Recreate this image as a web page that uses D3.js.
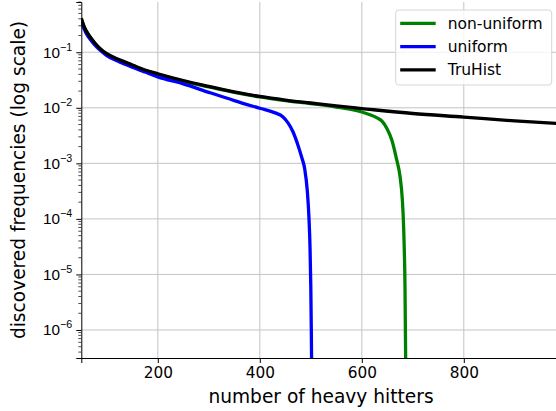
<!DOCTYPE html>
<html>
<head>
<meta charset="utf-8">
<script src="https://cdn.jsdelivr.net/npm/d3@7"></script>
<style>
	html, body { margin: 0; padding: 0; background: #fff; overflow: hidden; }
	svg { display: block; font-family: 'DejaVu Sans', sans-serif; }
</style>
</head>
<body>
<script>
(function(document, window){
'use strict';

// values
var seriesNames = ['non-uniform', 'uniform', 'TruHist'];
var seriesColors = ['#008000', '#0000ff', '#000000'];

var nonUniformX = [50, 55, 60, 70, 80, 90, 100, 125, 150, 175, 200, 250, 300, 350, 400, 450, 500, 550, 600,
				616, 630, 640, 649, 659, 668, 675, 679.5, 681.5, 683.3, 684.7, 685.5, 686.5];
var nonUniformY = [0.40, 0.295, 0.236, 0.172, 0.133, 0.108, 0.092, 0.071, 0.058, 0.047, 0.040, 0.030, 0.0238,
				0.019, 0.0157, 0.0135, 0.0119, 0.0103, 0.0084, 0.0075, 0.0066, 0.0057, 0.0043, 0.0026, 0.0012,
				0.00058, 0.00022, 0.000095, 0.000028, 0.000006, 0.0000009, 0.0000001];

var uniformX = [50, 55, 60, 70, 80, 90, 100, 125, 150, 175, 200, 250, 300, 350, 400, 430, 445, 455, 465, 475,
				482, 488, 493, 496.5, 498.5, 500, 501, 502];
var uniformY = [0.34, 0.27, 0.215, 0.16, 0.125, 0.103, 0.087, 0.067, 0.054, 0.044, 0.036, 0.027, 0.019, 0.0135,
				0.0098, 0.0081, 0.0069, 0.0054, 0.0037, 0.0021, 0.0013, 0.0008, 0.00033, 0.0001, 0.00003,
				0.000006, 0.000001, 0.0000001];

var truHistX = [50, 55, 60, 70, 80, 90, 100, 125, 150, 175, 200, 250, 300, 350, 400, 450, 500, 550, 600, 700,
				800, 900, 1000];
var truHistY = [0.41, 0.30, 0.24, 0.175, 0.135, 0.11, 0.094, 0.073, 0.059, 0.048, 0.041, 0.031, 0.0243, 0.0193,
				0.016, 0.0138, 0.0122, 0.0108, 0.0097, 0.0079, 0.0068, 0.0058, 0.0051];

var xTicks = [200, 400, 600, 800];
var yExponents = [-1, -2, -3, -4, -5, -6];

var width = 556;
var height = 411;
var left = 81.3;
var top = 2;
var bottom = 358;
var right = 560.7;

var xScale = d3.scaleLinear().domain([50, 990]).range([left, right]);
var yScale = d3.scaleLog().domain([3.13e-7, 0.803]).range([bottom, top]);

var svg = d3.select('body').append('svg')
							.attr('width', width)
							.attr('height', height);

svg.append('defs').append('clipPath')
		.attr('id', 'plotClip')
		.append('rect')
		.attr('x', left)
		.attr('y', top)
		.attr('width', right - left)
		.attr('height', bottom - top);

// grid
var grid = svg.append('g');
grid.selectAll('line.gx')
	.data(xTicks)
	.enter()
	.append('line')
	.attr('x1', function(d){ return xScale(d); })
	.attr('x2', function(d){ return xScale(d); })
	.attr('y1', top)
	.attr('y2', bottom)
	.attr('stroke', '#c4c4c4')
	.attr('stroke-width', 1);
grid.selectAll('line.gy')
	.data(yExponents)
	.enter()
	.append('line')
	.attr('x1', left)
	.attr('x2', right)
	.attr('y1', function(d){ return yScale(Math.pow(10, d)); })
	.attr('y2', function(d){ return yScale(Math.pow(10, d)); })
	.attr('stroke', '#c4c4c4')
	.attr('stroke-width', 1);

// curves
function toPoints(xs, ys){
	var pts = [];
	for(var i=0; i<xs.length; i++){
		pts.push([xs[i], ys[i]]);
	}
	return pts;
};

var seriesData = [toPoints(nonUniformX, nonUniformY), toPoints(uniformX, uniformY), toPoints(truHistX, truHistY)];

var line = d3.line()
			.x(function(d){ return xScale(d[0]); })
			.y(function(d){ return yScale(d[1]); })
			.curve(d3.curveMonotoneX);

svg.append('g')
	.attr('clip-path', 'url(#plotClip)')
	.selectAll('path')
	.data(seriesData)
	.enter()
	.append('path')
	.attr('d', line)
	.attr('fill', 'none')
	.attr('stroke', function(d, i){ return seriesColors[i]; })
	.attr('stroke-width', 3.3)
	.attr('stroke-linejoin', 'round');

// axes
var xAxis = d3.axisBottom(xScale)
				.tickValues(xTicks)
				.tickSize(5)
				.tickPadding(4)
				.tickFormat(d3.format('d'));

var gx = svg.append('g')
			.attr('transform', 'translate(0,' + bottom + ')')
			.call(xAxis);
gx.select('.domain').attr('stroke', '#000').attr('stroke-width', 1);
gx.selectAll('.tick line').attr('stroke', '#000').attr('stroke-width', 1);
gx.selectAll('.tick text')
	.attr('fill', '#000')
	.style('font-size', '15.3px')
	.style('font-family', 'DejaVu Sans');

var yAxis = d3.axisLeft(yScale)
				.tickValues(yExponents.map(function(e){ return Math.pow(10, e); }))
				.tickSize(5)
				.tickPadding(4)
				.tickFormat('');

var gy = svg.append('g')
			.attr('transform', 'translate(' + left + ',0)')
			.call(yAxis);
gy.select('.domain').attr('stroke', '#000').attr('stroke-width', 1);
gy.selectAll('.tick line').attr('stroke', '#000').attr('stroke-width', 1);

// minor log ticks
var minor = [];
for(var e=-7; e<=-1; e++){
	for(var m=2; m<=9; m++){
		var v = m * Math.pow(10, e);
		if(v >= yScale.domain()[0] && v <= yScale.domain()[1]){
			minor.push(v);
		}
	}
}
gy.selectAll('line.minor')
	.data(minor)
	.enter()
	.append('line')
	.attr('x1', -3)
	.attr('x2', 0)
	.attr('y1', function(d){ return yScale(d); })
	.attr('y2', function(d){ return yScale(d); })
	.attr('stroke', '#000')
	.attr('stroke-width', 0.7);

var yLabels = gy.selectAll('text.ylab')
				.data(yExponents)
				.enter()
				.append('text')
				.attr('x', -9)
				.attr('y', function(d){ return yScale(Math.pow(10, d)) + 5.5; })
				.attr('text-anchor', 'end')
				.attr('fill', '#000')
				.style('font-size', '15.3px');
yLabels.append('tspan').text('10');
yLabels.append('tspan')
		.attr('dy', -7)
		.style('font-size', '10.7px')
		.text(function(d){ return '\u2212' + Math.abs(d); });

// axis titles
svg.append('text')
	.attr('x', (left + right) / 2)
	.attr('y', 403)
	.attr('text-anchor', 'middle')
	.style('font-size', '18.6px')
	.text('number of heavy hitters');

svg.append('text')
	.attr('transform', 'translate(25,' + ((top + bottom) / 2) + ') rotate(-90)')
	.attr('text-anchor', 'middle')
	.style('font-size', '18.6px')
	.text('discovered frequencies (log scale)');

// legend
var legend = svg.append('g').attr('transform', 'translate(395.7,10)');
legend.append('rect')
		.attr('width', 156)
		.attr('height', 75)
		.attr('rx', 3)
		.attr('fill', '#fff')
		.attr('fill-opacity', 0.8)
		.attr('stroke', '#d6d6d6')
		.attr('stroke-width', 1);

var items = legend.selectAll('g.item')
				.data(seriesNames)
				.enter()
				.append('g')
				.attr('transform', function(d, i){ return 'translate(0,' + (13.3 + i * 23.3) + ')'; });
items.append('line')
		.attr('x1', 4.5)
		.attr('x2', 40)
		.attr('stroke', function(d, i){ return seriesColors[i]; })
		.attr('stroke-width', 3.3);
items.append('text')
		.attr('x', 52)
		.attr('y', 5.5)
		.style('font-size', '15.5px')
		.text(function(d){ return d; });

})(document, window);
</script>
</body>
</html>
